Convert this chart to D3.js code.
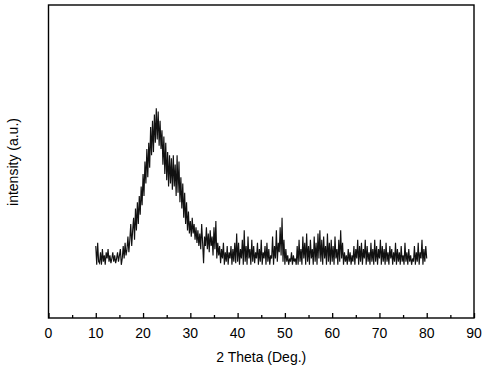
<!DOCTYPE html>
<html>
<head>
<meta charset="utf-8">
<script src="https://cdn.jsdelivr.net/npm/d3@7"></script>
<style>
  body { margin: 0; background: #fff; }
  text { font-family: "Liberation Sans", Arial, sans-serif; fill: #000; }
</style>
</head>
<body>
<svg id="chart" width="485" height="370"></svg>
<script>
// scan grid
const thetaStart = 10;
const thetaStep = 0.2;

// intensity, one value per 0.2 deg from 10 to 80
const intensity = [
  23, 17, 24, 18, 17.5, 21, 17, 22, 18, 20,
  17, 21, 19, 22, 18, 20, 17.5, 19, 21, 18,
  20, 17.5, 19, 21, 18, 20, 22, 17, 19, 23,
  19, 24, 20, 22, 26, 21, 25, 30, 23, 28,
  32, 25, 35, 28, 37, 30, 39, 33, 42, 36,
  46, 39, 50, 43, 54, 45, 56, 48, 61, 52,
  63, 53, 65, 56, 67, 57, 66, 55, 63, 54,
  60, 49, 58, 46, 56, 44, 53, 42, 52, 43,
  51, 41, 52, 42, 49, 39, 52, 40, 50, 37,
  45, 35, 43, 32, 40, 30, 37, 28, 34, 27,
  31, 26, 32, 27, 30, 25, 29, 24, 28, 23,
  27, 22, 30, 24, 17.5, 26, 23, 29, 22, 27,
  21, 28, 23, 26, 20, 29, 22, 31, 19, 24,
  20, 23, 17.5, 22, 19, 24, 17, 21, 18, 23,
  17, 21, 19, 23, 17, 22, 18, 24, 17.5, 27,
  18, 24, 17, 22, 19, 25, 17, 28, 18, 23,
  17, 26, 19, 22, 17, 25, 18, 23, 17.5, 21,
  19, 24, 17, 22, 18, 25, 17, 21, 19, 23,
  17, 24, 18, 22, 17, 20, 19, 26, 17, 23,
  19, 28, 18, 24, 21, 29, 20, 32, 18, 25,
  17, 22, 18, 20, 17, 19, 18, 21, 17, 20,
  18, 19, 17, 23, 17, 25, 18, 22, 17, 26,
  19, 24, 17, 27, 18, 23, 17, 25, 19, 22,
  17, 26, 18, 24, 17, 27, 19, 28, 18, 25,
  17, 26, 19, 23, 17, 27, 18, 24, 17, 25,
  18, 23, 17, 26, 19, 22, 17, 25, 18, 28,
  19, 24, 17, 21, 18, 20, 17, 22, 18, 21,
  17, 20, 18, 23, 17, 22, 19, 25, 17, 23,
  18, 24, 17, 22, 19, 25, 17, 23, 18, 21,
  17, 24, 18, 22, 17, 25, 18, 23, 17, 22,
  19, 25, 17, 23, 18, 22, 17, 24, 18, 21,
  17, 23, 19, 22, 17, 21, 18, 24, 17, 22,
  18, 21, 17, 23, 18, 20, 17, 24, 18, 21,
  17, 22, 18, 20, 17, 19, 18, 23, 17, 21,
  18, 24, 17, 21, 19, 25, 17, 22, 18, 23,
  19
];

const majorTicks = [0, 10, 20, 30, 40, 50, 60, 70, 80, 90];
const minorTicks = [5, 15, 25, 35, 45, 55, 65, 75, 85];
const xTitle = '2 Theta (Deg.)';
const yTitle = 'intensity (a.u.)';

const svg = d3.select('#chart');
const m = { left: 48.5, right: 474, top: 5, bottom: 318 };

const x = d3.scaleLinear().domain([0, 90]).range([m.left, m.right]);
const y = d3.scaleLinear().domain([0, 100]).range([m.bottom, m.top]);

const pts = intensity.map((v, i) => [thetaStart + i * thetaStep, v]);

// trace
svg.append('path')
  .datum(pts)
  .attr('fill', 'none')
  .attr('stroke', '#111')
  .attr('stroke-width', 1.15)
  .attr('d', d3.line().x(d => x(d[0])).y(d => y(d[1])));

// bottom axis, ticks pointing inward
const xAxis = svg.append('g')
  .attr('transform', `translate(0,${m.bottom})`)
  .call(d3.axisTop(x).tickValues(majorTicks).tickSize(5).tickFormat(''));
xAxis.select('.domain').remove();
xAxis.selectAll('line').attr('stroke', '#000').attr('stroke-width', 1.3);

const xMinor = svg.append('g')
  .attr('transform', `translate(0,${m.bottom})`)
  .call(d3.axisTop(x).tickValues(minorTicks).tickSize(3).tickFormat(''));
xMinor.select('.domain').remove();
xMinor.selectAll('line').attr('stroke', '#000').attr('stroke-width', 1.3);

svg.append('g')
  .selectAll('text')
  .data(majorTicks)
  .enter().append('text')
  .attr('x', d => x(d))
  .attr('y', 338)
  .attr('text-anchor', 'middle')
  .style('font-size', '14px')
  .text(d => d);

// frame
svg.append('rect')
  .attr('x', m.left).attr('y', m.top)
  .attr('width', m.right - m.left).attr('height', m.bottom - m.top)
  .attr('fill', 'none')
  .attr('stroke', '#000')
  .attr('stroke-width', 1.4);

svg.append('text')
  .attr('x', (m.left + m.right) / 2)
  .attr('y', 362)
  .attr('text-anchor', 'middle')
  .style('font-size', '14px')
  .text(xTitle);

svg.append('text')
  .attr('transform', 'translate(18,162) rotate(-90)')
  .attr('text-anchor', 'middle')
  .style('font-size', '14px')
  .text(yTitle);
</script>
</body>
</html>
